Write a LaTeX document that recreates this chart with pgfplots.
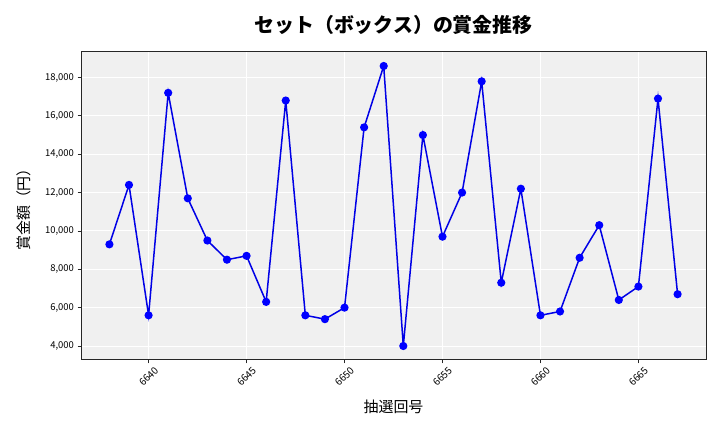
\documentclass[border=0pt]{standalone}
\usepackage{fontspec}
\setmainfont{Noto Sans CJK JP}
\usepackage{pgfplots}
\pgfplotsset{compat=1.18}
\definecolor{bg}{RGB}{240,240,240}
\begin{document}
\begin{tikzpicture}
\path[use as bounding box] (0,0) rectangle (720bp,432bp);
\begin{axis}[
  at={(81bp,72bp)}, anchor=south west,
  width=625bp, height=308bp, scale only axis,
  xmin=6636.55, xmax=6668.45, ymin=3270, ymax=19330,
  xtick={6640,6645,...,6665}, ytick={4000,6000,...,18000},
  axis background/.style={fill=bg},
  grid=major, major grid style={white, line width=0.9bp},
  axis line style={black!85, line width=1bp},
  tick pos=left,
  tick align=outside, major tick length=3.5bp,
  tick style={black!85, line width=0.8bp},
  scaled ticks=false,
  /pgf/number format/assume math mode=true,
  x tick label style={/pgf/number format/1000 sep={}, font=\fontsize{10}{11}\selectfont, yshift=-13bp, rotate=45, anchor=center},
  y tick label style={/pgf/number format/1000 sep={,}, font=\fontsize{9.5}{10}\selectfont},
  title={セット（ボックス）の賞金推移},
  title style={font=\fontsize{20}{22}\selectfont\bfseries, anchor=center, at={(0.5,1.07)}},
  xlabel={抽選回号},
  xlabel style={font=\fontsize{15}{17}\selectfont, anchor=center, at={(0.5,-0.1526)}},
  ylabel={賞金額（円）},
  ylabel style={font=\fontsize{15}{17}\selectfont, anchor=center, at={(-0.092,0.5)}, rotate=0},
]
\addplot[color={rgb,255:red,0;green,0;blue,230}, line width=1.5bp, mark=*, mark size=3.3bp, mark options={fill=blue, draw=blue}] coordinates {
(6638,9300) (6639,12400) (6640,5600) (6641,17200) (6642,11700) (6643,9500)
(6644,8500) (6645,8700) (6646,6300) (6647,16800) (6648,5600) (6649,5400)
(6650,6000) (6651,15400) (6652,18600) (6653,4000) (6654,15000) (6655,9700)
(6656,12000) (6657,17800) (6658,7300) (6659,12200) (6660,5600) (6661,5800)
(6662,8600) (6663,10300) (6664,6400) (6665,7100) (6666,16900) (6667,6700)
};
\end{axis}
\end{tikzpicture}
\end{document}
